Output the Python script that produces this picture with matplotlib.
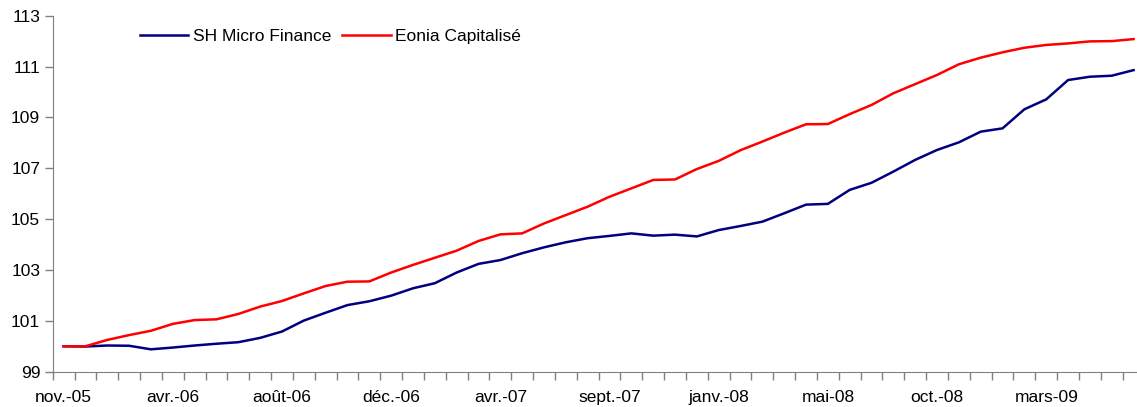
import matplotlib.pyplot as plt
import numpy as np

plt.rcParams['font.family'] = ['Liberation Sans', 'DejaVu Sans']

# Valeurs (base 100, nov.-05)
sh_micro_finance = [100.00, 99.99, 100.03, 100.02, 99.88, 99.95, 100.03, 100.10, 100.16, 100.33,
                    100.58, 101.01, 101.32, 101.62, 101.77, 101.99, 102.28, 102.48, 102.90, 103.24,
                    103.39, 103.66, 103.89, 104.09, 104.25, 104.34, 104.44, 104.35, 104.39, 104.32,
                    104.57, 104.73, 104.90, 105.23, 105.57, 105.60, 106.15, 106.43, 106.87, 107.33,
                    107.72, 108.02, 108.44, 108.57, 109.32, 109.71, 110.47, 110.60, 110.64, 110.86]
eonia_capitalise = [100.00, 100.00, 100.25, 100.44, 100.61, 100.88, 101.03, 101.06, 101.27, 101.56,
                    101.78, 102.08, 102.37, 102.54, 102.55, 102.90, 103.20, 103.48, 103.76, 104.14,
                    104.40, 104.44, 104.83, 105.16, 105.49, 105.88, 106.21, 106.54, 106.56, 106.97,
                    107.29, 107.71, 108.05, 108.40, 108.73, 108.74, 109.13, 109.49, 109.95, 110.31,
                    110.67, 111.09, 111.35, 111.56, 111.74, 111.85, 111.91, 111.99, 112.00, 112.08]
etiquettes = ['nov.-05', 'avr.-06', 'août-06', 'déc.-06', 'avr.-07',
              'sept.-07', 'janv.-08', 'mai-08', 'oct.-08', 'mars-09']

x = np.arange(len(sh_micro_finance))

fig = plt.figure(figsize=(11.37, 4.07), dpi=100)
ax = fig.add_axes([52.7 / 1137, 1 - 371.7 / 407, (1144.5 - 52.7) / 1137, 356 / 407])

ax.plot(x, sh_micro_finance, color='#000080', lw=1.8, label='SH Micro Finance')
ax.plot(x, eonia_capitalise, color='#FF0000', lw=1.8, label='Eonia Capitalisé')

ax.set_xlim(-0.5, len(x) - 0.5)
ax.set_ylim(99, 113)
ax.set_yticks(np.arange(99, 114, 2))
ax.set_xticks(np.arange(0, len(x), 5))
ax.set_xticklabels(etiquettes)
ax.set_xticks(np.arange(-0.5, len(x), 1), minor=True)
ax.tick_params(axis='x', which='major', length=0, pad=13, labelsize=12.5)
ax.tick_params(axis='x', which='minor', length=6, width=1, color='#808080')
ax.tick_params(axis='y', length=6, width=1, color='#808080', labelsize=12.5, pad=3)

for s in ['top', 'right']:
    ax.spines[s].set_visible(False)
for s in ['left', 'bottom']:
    ax.spines[s].set_color('#808080')

ax.legend(loc='upper left', bbox_to_anchor=(124 / 1137, 1 - 13 / 407), bbox_transform=fig.transFigure,
          ncol=2, frameon=False, fontsize=12.5, handlelength=2.8, handletextpad=0.25, columnspacing=0.65)

fig.savefig('out.png', dpi=100)
